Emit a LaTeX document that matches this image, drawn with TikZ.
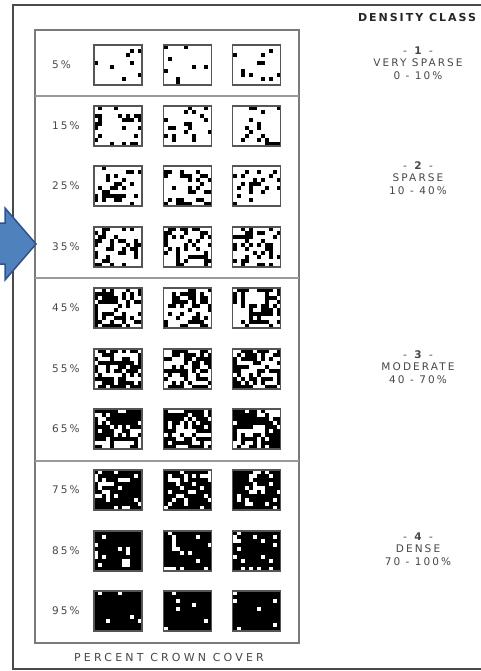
\documentclass[tikz,border=0pt]{standalone}
\usepackage{fontspec}
\setmainfont{DejaVu Sans}
\newfontfamily\spfont[LetterSpace=20]{DejaVu Sans}
\newfontfamily\sphead[LetterSpace=18]{DejaVu Sans}
\newfontfamily\spwide[LetterSpace=29]{DejaVu Sans}
\definecolor{framegray}{HTML}{4A4A4A}
\definecolor{boxgray}{HTML}{7A7A7A}
\definecolor{divgray}{HTML}{999999}
\definecolor{sqgray}{HTML}{555555}
\definecolor{txtgray}{HTML}{484848}
\definecolor{arrowfill}{HTML}{4F81BD}
\definecolor{arrowline}{HTML}{2F528F}
\tikzset{
  sqbox/.style={draw=sqgray, line width=1.3pt, minimum width=48pt, minimum height=40pt, inner sep=0pt},
  pctlab/.style={font=\fontsize{10.5}{11}\selectfont\spfont, text=txtgray, inner sep=0pt, anchor=west},
  classtxt/.style={font=\fontsize{10.5}{12.5}\selectfont\spfont, text=txtgray, align=center, inner sep=0pt},
  headtxt/.style={font=\fontsize{11}{12}\selectfont\sphead\bfseries, text=black!85, inner sep=0pt},
  foottxt/.style={font=\fontsize{11}{12}\selectfont\spwide, text=txtgray, inner sep=0pt}
}
\begin{document}
\begin{tikzpicture}[x=1pt,y=-1pt]
\useasboundingbox (0,0) rectangle (481,671);
\fill[white] (0,0) rectangle (481,671);
% outer frame
\draw[framegray, line width=2pt] (483,5) -- (13,5) -- (13,669) -- (483,669);
% inner table
\draw[boxgray, line width=1.4pt] (35,30) rectangle (299,643);
\foreach \yy in {96,278,461} \draw[divgray, line width=2pt] (35,\yy) -- (299,\yy);
% squares
\pgfmathsetseed{11}
\foreach \lab/\dens/\yc [count=\i] in {5/0.05/65,15/0.15/126,25/0.25/186,35/0.35/247,45/0.45/308,55/0.55/369,65/0.65/429,75/0.75/490,85/0.87/551,95/0.95/611}{
  \node[pctlab] (l\i) at (52,\yc) {\lab\%};
  \foreach \xc [count=\j] in {118,187.5,256.5}{
    \foreach \a in {0,...,11}{
      \foreach \b in {0,...,9}{
        \pgfmathsetmacro\rv{rnd}
        \ifdim\rv pt<\dens pt \fill[black] ({\xc-24+4*\a},{\yc-20+4*\b}) rectangle ++(4,4);\fi
      }
    }
    \node[sqbox] (q\i-\j) at (\xc,\yc) {};
  }
}
% right column texts
\node[headtxt] (head) at (417,17) {DENSITY CLASS};
\node[classtxt] (c1) at (418,63) {- \textbf{1} -\\VERY SPARSE\\0 - 10\%};
\node[classtxt] (c2) at (418,178) {- \textbf{2} -\\SPARSE\\10 - 40\%};
\node[classtxt] (c3) at (418,367) {- \textbf{3} -\\MODERATE\\40 - 70\%};
\node[classtxt] (c4) at (418,549) {- \textbf{4} -\\DENSE\\70 - 100\%};
% footer
\node[foottxt] (foot) at (169,657) {PERCENT CROWN COVER};
% blue arrow
\draw[arrowline, fill=arrowfill, line width=1.5pt, line join=miter]
  (-3,223) -- (5,223) -- (5,208) -- (36,244) -- (5,280) -- (5,264) -- (-3,264) -- cycle;
\end{tikzpicture}
\end{document}
